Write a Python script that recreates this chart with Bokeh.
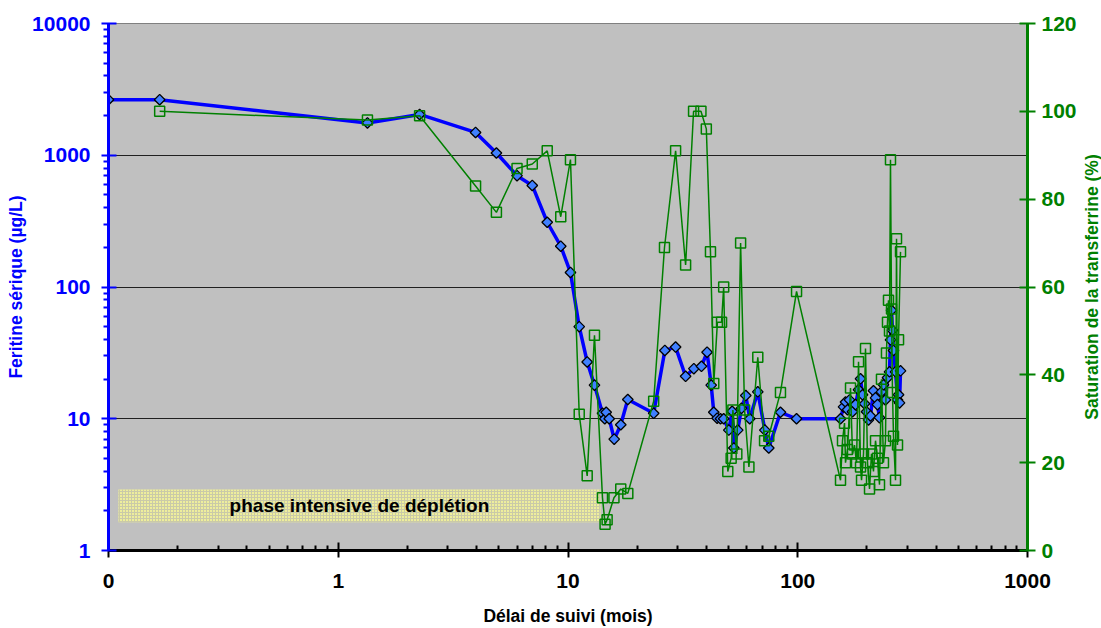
import numpy as np
from bokeh.plotting import figure
from bokeh.models import (Range1d, LinearAxis, LinearScale, FixedTicker, CustomJSTickFormatter,
                          BoxAnnotation, Label, ColumnDataSource, Grid)
from bokeh.embed import file_html
from bokeh.resources import INLINE

# ---------------- data ----------------
fer_months = [0.1, 0.167, 1.34, 2.26, 3.96, 4.88, 6.0, 6.99, 8.12, 9.3, 10.25, 11.19,
              12.12, 13.04, 14.13, 14.46, 14.66, 15.11, 15.89, 16.97, 18.21, 23.6, 26.4,
              29.4, 32.5, 35.3, 38.1, 40.3, 42.0, 43.1, 44.6, 46.1, 47.6, 50.1, 51.8, 52.7,
              54.8, 56.9, 59.4, 61.8, 67.0, 71.9, 74.8, 84.1, 98.8, 153.5,
              158.2, 161.4, 164.7, 168.0, 173.1, 178.4, 183.9, 187.6, 191.4, 195.3, 199.2,
              203.2, 207.3, 213.6, 218.0, 222.4, 226.9, 231.4, 236.1, 240.9, 245.8, 250.8,
              253.3, 255.9, 258.4, 261.1, 266.4, 271.8, 274.6, 277.3, 280.1]
ferritin = [2640, 2640, 1760, 2040, 1490, 1040, 700, 590, 310, 204, 129, 50,
            27, 18, 11, 10, 11.2, 10, 7, 9, 14, 11, 33,
            35, 21, 24, 25, 32, 18, 11.2, 10.1, 10, 10, 8.2, 11.4, 6,
            8.2, 12, 15, 10, 16, 8.2, 6, 11.2, 10, 10,
            12.3, 13.4, 11.7, 13.9, 11.3, 12.8, 16.6, 20.1, 15.2, 13.0, 11.3,
            9.8, 10.5, 16.3, 14.4, 12.8, 10.2, 16, 18.1, 13.9, 20.5, 22.7,
            39.7, 66.6, 47, 33, 22.7, 13.9, 15.2, 13.2, 23.1]

sat_months = [0.167, 1.34, 2.26, 3.96, 4.88, 6.0, 6.99, 8.12, 9.3, 10.25, 11.19, 12.12,
              13.04, 14.13, 14.5, 14.8, 15.85, 16.97, 18.21, 23.6, 26.3, 29.4, 32.5, 35.2,
              37.9, 40.0, 41.7, 43.1, 44.7, 46.6, 47.6, 49.6, 51.3, 52.2, 54.3, 56.4, 58.7,
              61.3, 67.0, 71.7, 74.8, 84.1, 98.8, 153.5,
              156.6, 159.8, 161.4, 164.7, 169.7, 173.1, 176.6, 180.2, 183.9, 187.6, 189.5,
              193.3, 197.2, 201.2, 205.3, 209.4, 213.6, 218.0, 222.4, 226.9, 231.4, 236.1,
              240.9, 243.3, 245.8, 248.3, 250.8, 253.3, 255.9, 258.4, 261.1, 266.4, 269.1,
              271.8, 274.6, 280.1]
saturation = [100, 98, 99, 83, 77, 87, 88, 91, 76, 89, 31, 17,
              49, 12, 6, 7, 12, 14, 13, 34, 69, 91, 65, 100,
              100, 96, 68, 38, 52, 52, 60, 18, 21, 32, 22, 70, 32,
              19, 44, 25, 26, 36, 59, 16,
              25, 29, 20, 23, 37, 22, 24, 20, 43, 19, 16,
              22, 46, 20, 14, 22, 18, 25, 21, 15, 39, 20,
              25, 45, 52, 57, 50, 89, 55, 36, 26, 16, 71,
              24, 48, 68]

x_ticks = [0.1, 1, 10, 100, 1000]
y_ticks = [1, 10, 100, 1000, 10000]
sat_ticks = [0, 20, 40, 60, 80, 100, 120]

FONT = "Liberation Sans"
BLUE = "#0000FF"
GREEN = "#008000"
TICK_FS = "21px"
TITLE_FS = "17.5px"

p = figure(width=1101, height=628, x_axis_type="log", y_axis_type="log",
           x_range=Range1d(0.1, 1000), y_range=Range1d(1, 10000),
           output_backend="svg", toolbar_location=None,
           min_border_left=108, min_border_right=74, min_border_top=23, min_border_bottom=77)
p.extra_y_ranges = {"sat": Range1d(0, 120)}
p.extra_y_scales = {"sat": LinearScale()}
p.background_fill_color = "#C0C0C0"
p.border_fill_color = "white"
p.outline_line_color = "#808080"
p.outline_line_width = 1

fmt = CustomJSTickFormatter(code="return tick < 0.5 ? '0' : String(Math.round(tick));")

# x axis
xa = p.xaxis[0]
xa.ticker = FixedTicker(ticks=x_ticks,
                        minor_ticks=[k * 10.0 ** d for d in range(-1, 3) for k in range(2, 10)])
xa.formatter = fmt
xa.axis_line_color = "black"
xa.axis_line_width = 3
xa.major_tick_line_color = "black"
xa.major_tick_line_width = 2
xa.major_tick_in = 8
xa.major_tick_out = 7
xa.minor_tick_line_color = "black"
xa.minor_tick_line_width = 2
xa.minor_tick_in = 5
xa.minor_tick_out = 0
xa.major_label_text_font = FONT
xa.major_label_text_font_style = "bold"
xa.major_label_text_font_size = TICK_FS
xa.major_label_text_color = "black"
xa.major_label_standoff = 16
xa.axis_label = "Délai de suivi (mois)"
xa.axis_label_text_font = FONT
xa.axis_label_text_font_style = "bold"
xa.axis_label_text_font_size = TITLE_FS
xa.axis_label_text_color = "black"
xa.axis_label_standoff = 15

# left axis
ya = p.yaxis[0]
ya.ticker = FixedTicker(ticks=y_ticks,
                        minor_ticks=[k * 10.0 ** d for d in range(0, 4) for k in range(2, 10)])
ya.formatter = fmt
ya.axis_line_color = BLUE
ya.axis_line_width = 3
ya.major_tick_line_color = BLUE
ya.major_tick_line_width = 2
ya.major_tick_in = 8
ya.major_tick_out = 7
ya.minor_tick_line_color = BLUE
ya.minor_tick_line_width = 2
ya.minor_tick_in = 0
ya.minor_tick_out = 5
ya.major_label_text_font = FONT
ya.major_label_text_font_style = "bold"
ya.major_label_text_font_size = TICK_FS
ya.major_label_text_color = BLUE
ya.major_label_standoff = 11
ya.axis_label = "Feritine sérique (µg/L)"
ya.axis_label_text_font = FONT
ya.axis_label_text_font_style = "bold"
ya.axis_label_text_font_size = TITLE_FS
ya.axis_label_text_color = BLUE
ya.axis_label_standoff = 3

# right axis
ra = LinearAxis(y_range_name="sat", ticker=FixedTicker(ticks=sat_ticks, minor_ticks=[]))
ra.axis_line_color = GREEN
ra.axis_line_width = 3
ra.major_tick_line_color = GREEN
ra.major_tick_line_width = 2
ra.major_tick_in = 8
ra.major_tick_out = 8
ra.minor_tick_line_color = None
ra.major_label_text_font = FONT
ra.major_label_text_font_style = "bold"
ra.major_label_text_font_size = TICK_FS
ra.major_label_text_color = GREEN
ra.major_label_standoff = 6
p.add_layout(ra, "right")

# right axis title (reads bottom-to-top, as in the original); placed in the right
# side panel so that it is not clipped to the plot frame
p.add_layout(Label(x=1918, y=60, y_range_name="sat", text="Saturation de la transferrine (%)",
                   angle=np.pi / 2, text_align="center", text_baseline="middle",
                   text_font=FONT, text_font_style="bold", text_font_size=TITLE_FS,
                   text_color=GREEN), "right")

# grids
p.xgrid.grid_line_color = None
p.ygrid.grid_line_color = None
p.add_layout(Grid(dimension=1, ticker=FixedTicker(ticks=[10, 100, 1000]),
                  grid_line_color="#202020", grid_line_width=1))

# annotation box
box = BoxAnnotation(left=0.1105, right=13.85, bottom=1.64, top=2.9,
                    fill_color="#EEEE9C", fill_alpha=1.0, line_color=None,
                    hatch_pattern="+", hatch_color="#CACAA8", hatch_scale=3,
                    hatch_weight=1, level="underlay")
p.add_layout(box)
p.add_layout(Label(x=1.237, y=2.19, text="phase intensive de déplétion",
                   text_align="center", text_baseline="middle",
                   text_font=FONT, text_font_style="bold", text_font_size="19px",
                   text_color="black"))

# ferritin series
src_f = ColumnDataSource(dict(x=fer_months, y=ferritin))
p.line("x", "y", source=src_f, line_color=BLUE, line_width=3.5)
p.scatter("x", "y", source=src_f, marker="square", angle=np.pi / 4, size=7.5,
          fill_color="#4080FF", line_color="black", line_width=1.3)

# saturation series
src_s = ColumnDataSource(dict(x=sat_months, y=saturation))
p.line("x", "y", source=src_s, y_range_name="sat", line_color=GREEN, line_width=1.5)
p.scatter("x", "y", source=src_s, y_range_name="sat", marker="square", size=10,
          fill_alpha=0, line_color=GREEN, line_width=1.5)

open("out.html", "w").write(file_html(p, INLINE))
